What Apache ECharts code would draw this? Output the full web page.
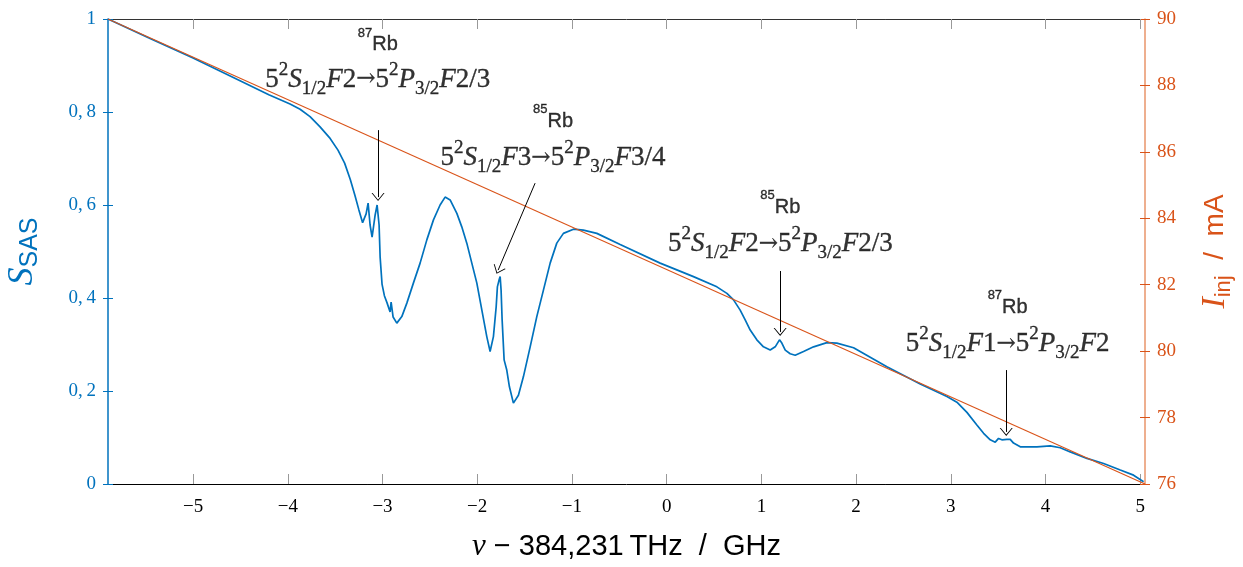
<!DOCTYPE html>
<html>
<head>
<meta charset="utf-8">
<script src="https://cdn.jsdelivr.net/npm/echarts@6/dist/echarts.min.js"></script>
<style>html,body{margin:0;padding:0;background:#fff}#c{width:1243px;height:567px}</style>
</head>
<body>
<div id="c"></div>
<script>
// Saturated-absorption spectrum: detuning (GHz) vs signal S_SAS
const freq = [-5.898,-5.454,-5.000,-4.504,-4.200,-3.976,-3.870,-3.765,-3.659,-3.560,-3.470,-3.400,-3.340,-3.290,-3.250,-3.210,-3.190,-3.173,-3.152,-3.131,-3.110,-3.078,-3.057,-3.036,-3.025,-3.005,-2.980,-2.951,-2.920,-2.909,-2.888,-2.849,-2.796,-2.743,-2.674,-2.603,-2.532,-2.462,-2.392,-2.339,-2.286,-2.215,-2.163,-2.110,-2.057,-2.004,-1.951,-1.899,-1.864,-1.829,-1.800,-1.787,-1.769,-1.758,-1.748,-1.737,-1.716,-1.688,-1.660,-1.618,-1.565,-1.512,-1.441,-1.371,-1.301,-1.230,-1.160,-1.090,-0.984,-0.879,-0.737,-0.491,-0.069,0.283,0.530,0.636,0.706,0.776,0.829,0.882,0.952,1.022,1.093,1.146,1.191,1.216,1.252,1.304,1.357,1.445,1.551,1.692,1.797,1.973,2.325,2.677,2.959,3.064,3.170,3.275,3.346,3.416,3.469,3.504,3.539,3.592,3.627,3.662,3.733,3.909,4.050,4.155,4.261,4.437,4.613,4.789,4.929,5.035];
const signal = [1.000,0.958,0.916,0.867,0.837,0.817,0.806,0.790,0.768,0.745,0.718,0.690,0.655,0.620,0.590,0.562,0.560,0.581,0.604,0.557,0.531,0.578,0.600,0.557,0.488,0.430,0.405,0.389,0.370,0.391,0.359,0.346,0.360,0.389,0.432,0.475,0.525,0.568,0.600,0.617,0.611,0.582,0.553,0.518,0.475,0.432,0.374,0.317,0.285,0.317,0.381,0.424,0.439,0.446,0.417,0.353,0.267,0.245,0.209,0.174,0.191,0.231,0.295,0.360,0.417,0.475,0.518,0.539,0.548,0.546,0.539,0.515,0.475,0.446,0.424,0.410,0.396,0.374,0.353,0.331,0.310,0.295,0.288,0.295,0.310,0.303,0.288,0.280,0.277,0.285,0.295,0.304,0.303,0.293,0.252,0.215,0.188,0.176,0.154,0.127,0.109,0.095,0.090,0.098,0.095,0.096,0.096,0.088,0.080,0.080,0.082,0.078,0.069,0.055,0.044,0.030,0.019,0.005];
// Injection current ramp (right axis, mA)
const currentFreq = [-5.898, 5.05];
const current = [90, 76];
// Tick values
const xTicks = [-5,-4,-3,-2,-1,0,1,2,3,4,5];
// Annotations
const annoIsotope = ['87','85','85','87'];
const annoLowerF = ['2','3','2','1'];
const annoUpperF = ['2/3','3/4','2/3','2'];
const annoX = [-3.05,-1.20,1.20,3.60];
const annoIsoY = [0.955,0.791,0.606,0.391];
const annoFormulaY = [0.870,0.702,0.517,0.302];
const arrowFrom = [[-3.047,0.761],[-1.389,0.647],[1.198,0.458],[3.585,0.245]];
const arrowTo = [[-3.047,0.617],[-1.779,0.460],[1.198,0.327],[3.585,0.112]];

const BLUE = '#0072bd', ORANGE = '#d95319', ORANGE_AX = '#e8946a';
const serif = 'Liberation Serif', sans = 'Liberation Sans';

const chart = echarts.init(document.getElementById('c'), null, {renderer:'canvas'});

const tb = {textBorderColor:'#000',textBorderWidth:0.35};
const formulaRich = {
  n:Object.assign({fontFamily:serif,fontSize:27,color:'#000',lineHeight:38},tb),
  i:Object.assign({fontFamily:serif,fontStyle:'italic',fontSize:27,color:'#000',lineHeight:38},tb),
  ar:Object.assign({fontFamily:'DejaVu Serif',fontSize:23,color:'#000',lineHeight:38},tb),
  sup:Object.assign({fontFamily:serif,fontSize:19,color:'#000',lineHeight:38,verticalAlign:'top'},tb),
  sub:Object.assign({fontFamily:serif,fontSize:19,color:'#000',lineHeight:38,verticalAlign:'bottom'},tb),
  rb:Object.assign({fontFamily:sans,fontSize:20,color:'#000',lineHeight:30,verticalAlign:'bottom'},tb),
  rbs:Object.assign({fontFamily:sans,fontSize:13,color:'#000',lineHeight:30,verticalAlign:'top',padding:[2,0,0,0]},tb)
};
function formula(i){
  return '{n|5}{sup|2}{i|S}{sub|1/2}{i|F}{n|'+annoLowerF[i]+'}{ar|\u2192}{n|5}{sup|2}{i|P}{sub|3/2}{i|F}{n|'+annoUpperF[i]+'}';
}
const labelData = [];
for (let i=0;i<annoX.length;i++){
  labelData.push({value:[annoX[i],annoIsoY[i]], label:{formatter:'{rbs|'+annoIsotope[i]+'}{rb|Rb}'}});
  labelData.push({value:[annoX[i],annoFormulaY[i]], label:{formatter:formula(i)}});
}
const arrowLines = arrowFrom.map((f,i)=>[{coord:f},{coord:arrowTo[i]}]);

chart.setOption({
  animation:false,
  backgroundColor:'#fff',
  grid:{left:108,right:98,top:19,bottom:83,containLabel:false,outerBoundsMode:'none'},
  xAxis:[{
    type:'value',min:-5.898,max:5.05,position:'bottom',
    axisLine:{show:true,onZero:false,lineStyle:{color:'#000',width:1}},
    axisTick:{show:true,inside:true,length:10,customValues:xTicks,lineStyle:{color:'#999',width:1}},
    axisLabel:{customValues:xTicks,fontFamily:serif,fontSize:19,color:'#000',margin:14,
      formatter:v=>(v<0?'\u2212':'')+Math.abs(Math.round(v))},
    splitLine:{show:false},
    name:'{v|\u03bd}{m| \u2212 }{t|384,231\u2009THz  /  GHz}',nameLocation:'middle',nameGap:47,
    nameTextStyle:{rich:{
      v:{fontFamily:serif,fontStyle:'italic',fontSize:31,color:'#000'},
      m:{fontFamily:sans,fontSize:29,color:'#000'},
      t:{fontFamily:sans,fontSize:29,color:'#000'}}}
  },{
    type:'value',min:-5.898,max:5.05,position:'top',
    axisLine:{show:true,onZero:false,lineStyle:{color:'#333',width:1}},
    axisTick:{show:true,inside:true,length:10,customValues:xTicks,lineStyle:{color:'#999',width:1}},
    axisLabel:{show:false},splitLine:{show:false}
  }],
  yAxis:[{
    type:'value',min:0,max:1,interval:0.2,position:'left',
    axisLine:{show:true,onZero:false,lineStyle:{color:BLUE,width:1.5}},
    axisTick:{show:true,inside:false,length:5,lineStyle:{color:BLUE,width:1}},
    axisLabel:{fontFamily:serif,fontSize:19,color:BLUE,margin:12,
      formatter:v=>(v===0||v===1)?String(v):v.toFixed(1).replace('.',',\u2009')},
    splitLine:{show:false},
    name:'{s|S}{b|SAS}',nameLocation:'middle',nameGap:65,nameRotate:90,
    nameTextStyle:{rich:{
      s:{fontFamily:serif,fontStyle:'italic',fontSize:36,color:BLUE,lineHeight:40},
      b:{fontFamily:sans,fontSize:25,color:BLUE,verticalAlign:'bottom',lineHeight:40,padding:[12,0,0,0]}}}
  },{
    type:'value',min:76,max:90,interval:2,position:'right',
    axisLine:{show:true,onZero:false,lineStyle:{color:ORANGE_AX,width:1.5}},
    axisTick:{show:true,inside:false,length:5,lineStyle:{color:ORANGE,width:1}},
    axisLabel:{fontFamily:serif,fontSize:19,color:ORANGE,margin:12},
    splitLine:{show:false},
    name:'{s|I}{b|inj}{t|  /  mA}',nameLocation:'middle',nameGap:50,nameRotate:90,
    nameTextStyle:{rich:{
      s:{fontFamily:serif,fontStyle:'italic',fontSize:34,color:ORANGE,lineHeight:40},
      b:{fontFamily:sans,fontSize:22,color:ORANGE,verticalAlign:'bottom',lineHeight:40,padding:[12,0,0,0]},
      t:{fontFamily:sans,fontSize:28,color:ORANGE,lineHeight:40}}}
  },{
    type:'value',min:0,max:1,interval:0.2,position:'left',
    axisLine:{show:false,onZero:false},axisTick:{show:true,inside:true,length:5,lineStyle:{color:BLUE,width:1}},
    axisLabel:{show:false},splitLine:{show:false}
  },{
    type:'value',min:76,max:90,interval:2,position:'right',
    axisLine:{show:false,onZero:false},axisTick:{show:true,inside:true,length:5,lineStyle:{color:ORANGE,width:1}},
    axisLabel:{show:false},splitLine:{show:false}
  }],
  series:[{
    type:'line',xAxisIndex:0,yAxisIndex:0,showSymbol:false,
    data:freq.map((f,i)=>[f,signal[i]]),
    lineStyle:{color:BLUE,width:1.7},z:2
  },{
    type:'line',xAxisIndex:0,yAxisIndex:1,showSymbol:false,
    data:currentFreq.map((f,i)=>[f,current[i]]),
    lineStyle:{color:ORANGE,width:1.1},z:3
  },{
    type:'scatter',xAxisIndex:0,yAxisIndex:0,symbolSize:0,
    data:labelData,
    label:{show:true,position:'inside',rich:formulaRich,color:'#000'},
    z:5,
    markLine:{
      silent:true,symbol:['none','path://M0,10 L5,0 L10,10 L9.2,10 L5,1.8 L0.8,10 Z'],symbolSize:[13,8],
      lineStyle:{color:'#000',width:1,type:'solid'},
      label:{show:false},
      data:arrowLines
    }
  }]
});
</script>
</body>
</html>
